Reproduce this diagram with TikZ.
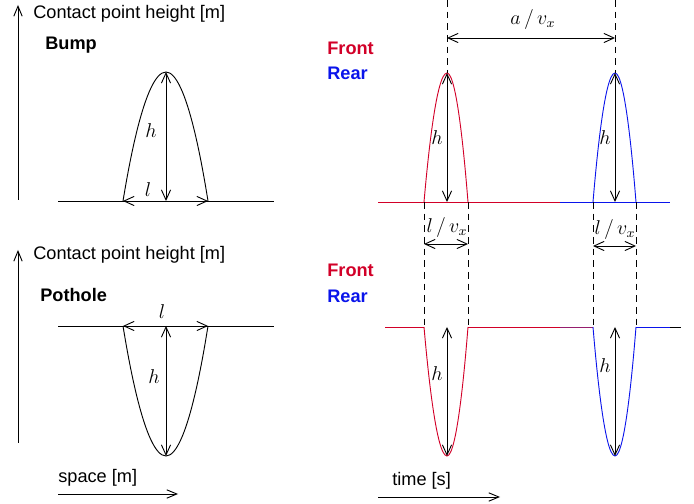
\documentclass[tikz,border=0pt]{standalone}
\usepackage{fontspec}
\setmainfont{Liberation Sans}
\usetikzlibrary{arrows.meta}
\definecolor{frontRed}{RGB}{210,0,40}
\definecolor{rearBlue}{RGB}{10,20,235}
\definecolor{mixPurple}{RGB}{150,30,110}
\tikzset{
  dim/.style={{Straight Barb[length=6pt,width=5.5pt]}-{Straight Barb[length=6pt,width=5.5pt]},line width=0.55pt},
  axis/.style={-{Straight Barb[length=6pt,width=5pt]},line width=0.55pt},
  profile/.style={line width=0.55pt},
  guide/.style={line width=0.55pt,dash pattern=on 4pt off 3pt},
  lbl/.style={font=\fontsize{10.9}{13}\selectfont,inner sep=0pt,anchor=base west},
  ttl/.style={lbl,font=\fontsize{10.9}{13}\selectfont\bfseries},
  sym/.style={font=\fontsize{12}{14}\selectfont,inner sep=0pt}
}

\begin{document}
\begin{tikzpicture}[x=0.6pt,y=-0.6pt]
  \useasboundingbox (0,0) rectangle (694,504);

  % space domain: bump
  \draw[axis] (18,200) -- (18,5);
  \node[lbl] (yb) at (33,19) {Contact point height [m]};
  \node[ttl] (bump) at (45,50) {Bump};
  \coordinate (b1) at (123,201);
  \coordinate (b2) at (208,201);
  \coordinate (btop) at (166,72);
  \coordinate (bbase) at (166,201);
  \draw[profile] (58,201) -- (274,201);
  \draw[profile] (b1) parabola bend (btop) (b2);
  \draw[dim] (btop) -- (bbase);
  \draw[dim] (b1) -- (b2);
  \node[sym] (bh) at (151,131) {$h$};
  \node[sym] (bl) at (148,190) {$l$};

  % space domain: pothole
  \draw[axis] (18,443) -- (18,250);
  \node[lbl] (yp) at (33,260) {Contact point height [m]};
  \node[ttl] (pothole) at (40,302) {Pothole};
  \coordinate (p1) at (123,326);
  \coordinate (p2) at (208,326);
  \coordinate (pbot) at (166,456);
  \coordinate (ptop) at (166,326);
  \draw[profile] (58,326) -- (274,326);
  \draw[profile] (p1) parabola bend (pbot) (p2);
  \draw[dim] (ptop) -- (pbot);
  \draw[dim] (p1) -- (p2);
  \node[sym] (ph) at (154,377) {$h$};
  \node[sym] (pl) at (162,312) {$l$};
  \node[lbl] (space) at (58,483) {space [m]};
  \coordinate (s1) at (58,494);
  \coordinate (s2) at (178,494);
  \draw[axis] (s1) -- (s2);

  % time domain: bump
  \node[ttl,text=frontRed] (front1) at (327,55) {Front};
  \node[ttl,text=rearBlue] (rear1) at (327,80) {Rear};
  \coordinate (f1) at (424,202);
  \coordinate (f2) at (468,202);
  \coordinate (ftop) at (447,73);
  \coordinate (fbase) at (447,202);
  \coordinate (r1) at (593,202);
  \coordinate (r2) at (636,202);
  \coordinate (rtop) at (615,73);
  \coordinate (rbase) at (615,202);
  \draw[profile,frontRed] (378,202) -- (560,202);
  \draw[profile,rearBlue] (560,202) -- (670,202);
  \draw[profile,frontRed] (f1) parabola bend (ftop) (f2);
  \draw[profile,rearBlue] (r1) parabola bend (rtop) (r2);
  \draw[guide] (447,0) -- (ftop);
  \draw[guide] (615,0) -- (rtop);
  \draw[dim] (ftop) -- (fbase);
  \draw[dim] (rtop) -- (rbase);
  \node[sym] (fh) at (437,138) {$h$};
  \node[sym] (rh) at (605,138) {$h$};
  \coordinate (a1) at (447,38);
  \coordinate (a2) at (615,38);
  \draw[dim] (a1) -- (a2);
  \node[sym] (adist) at (533,20) {$a\,/\,v_x$};

  % dashed guides between the two time plots
  \draw[guide] (f1) -- (424,327);
  \draw[guide] (f2) -- (468,327);
  \draw[guide] (r1) -- (593,327);
  \draw[guide] (r2) -- (636,327);
  \draw[dim] (424,244) -- (468,244);
  \draw[dim] (593,246) -- (636,246);
  \node[sym] (fl) at (447,228) {$l\,/\,v_x$};
  \node[sym] (rl) at (615,230) {$l\,/\,v_x$};

  % time domain: pothole
  \node[ttl,text=frontRed] (front2) at (327,277) {Front};
  \node[ttl,text=rearBlue] (rear2) at (327,303) {Rear};
  \coordinate (g1) at (424,327);
  \coordinate (g2) at (468,327);
  \coordinate (gbot) at (447,456);
  \coordinate (q1) at (593,327);
  \coordinate (q2) at (636,327);
  \coordinate (qbot) at (615,456);
  \draw[profile,frontRed] (385,327) -- (g1);
  \draw[profile,frontRed] (g2) -- (560,327);
  \draw[profile,mixPurple] (560,327) -- (q1);
  \draw[profile,rearBlue] (q2) -- (670,327);
  \draw[profile] (670,327) -- (681,327);
  \draw[profile,frontRed] (g1) parabola bend (gbot) (g2);
  \draw[profile,rearBlue] (q1) parabola bend (qbot) (q2);
  \draw[dim] (g1 -| gbot) -- (gbot);
  \draw[dim] (q1 -| qbot) -- (qbot);
  \node[sym] (gh) at (437,374) {$h$};
  \node[sym] (qh) at (605,366) {$h$};
  \node[lbl] (time) at (392,485) {time [s]};
  \coordinate (t1) at (378,497);
  \coordinate (t2) at (500,497);
  \draw[axis] (t1) -- (t2);
\end{tikzpicture}
\end{document}
